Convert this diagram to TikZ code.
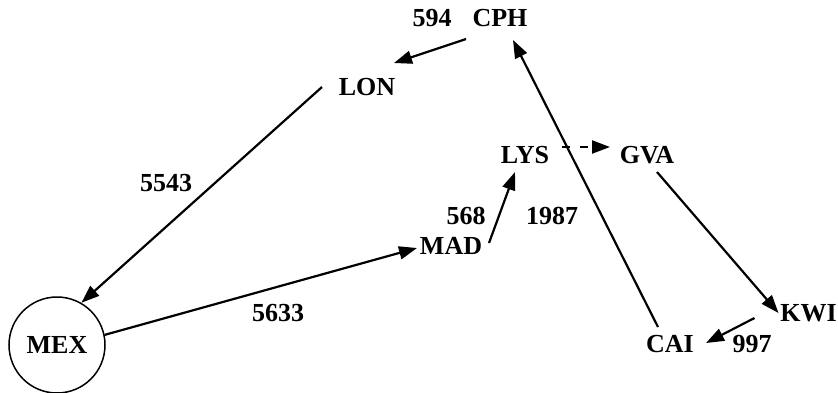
\documentclass[tikz,border=0pt]{standalone}
\usepackage{fontspec}
\setmainfont{Liberation Serif}
\usetikzlibrary{arrows.meta,calc}
\begin{document}
\begin{tikzpicture}[x=1pt,y=-1pt,
  lbl/.style={font=\fontsize{26}{30}\selectfont\bfseries, text height=17pt, text depth=0pt, inner sep=0pt},
  city/.style={lbl},
  edge/.style={line width=2.2pt, -{Triangle[length=18pt,width=13pt]}},
  dedge/.style={edge, dash pattern=on 8pt off 10pt}]
\useasboundingbox (0,0) rectangle (838,392);
% cities
\node[city] (cph) at (500,18) {CPH};
\node[city] (lon) at (367,86.5) {LON};
\node[city, draw, circle, line width=1.5pt, minimum size=96pt] (mex) at (57,345) {MEX};
\node[city] (mad) at (451,246) {MAD};
\node[city] (lys) at (525,155) {LYS};
\node[city] (gva) at (647,155) {GVA};
\node[city] (kwi) at (808.5,313) {KWI};
\node[city] (cai) at (670,344) {CAI};
% weights
\node[lbl] (w594) at (432,18) {594};
\node[lbl] (w5543) at (166,183) {5543};
\node[lbl] (w5633) at (278,313) {5633};
\node[lbl] (w568) at (466,216) {568};
\node[lbl] (w1987) at (552,216) {1987};
\node[lbl] (w997) at (752,344) {997};
% connectors
\draw[edge] ($(cph)+(-34,21)$) -- ($(lon)+(27,-23.5)$);
\draw[edge] ($(lon)+(-45,0.5)$) -- (mex.60);
\draw[edge] (mex.12) -- ($(mad)+(-34,2)$);
\draw[edge] ($(mad)+(38,-3)$) -- ($(lys)+(-10,17)$);
\draw[edge] ($(cai)+(-12,-17)$) -- ($(cph)+(13,22)$);
\draw[dedge] ($(lys)+(37,-8)$) -- ($(gva)+(-37,-8)$);
\draw[edge] ($(gva)+(10,17)$) -- ($(kwi)+(-30,0)$);
\draw[edge] ($(kwi)+(-54,5)$) -- ($(cai)+(36,-1)$);
\end{tikzpicture}
\end{document}
